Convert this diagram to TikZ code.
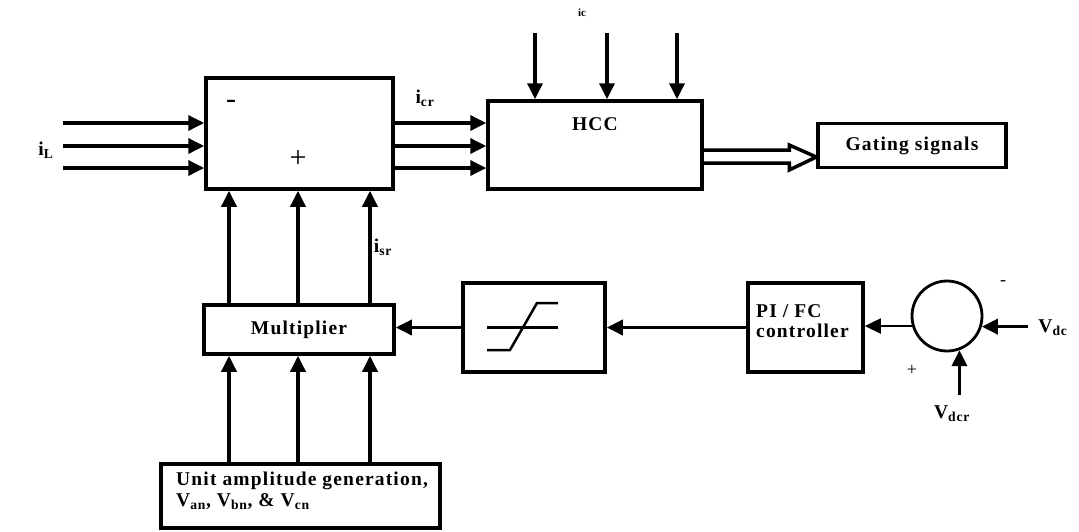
\documentclass[tikz,border=0pt]{standalone}
\usepackage{fontspec}
\setmainfont{Liberation Serif}
\usetikzlibrary{arrows.meta,calc}
\begin{document}
\begin{tikzpicture}[x=1pt,y=-1pt,
  box/.style={draw,line width=3.5pt,rectangle,inner sep=0pt,align=center,font=\lbl},
  arr/.style={line width=3.5pt,-{Triangle[length=16pt,width=15pt]}},
  thinarr/.style={line width=1.8pt,-{Triangle[length=16pt,width=15pt]}},
  lbl/.style={inner sep=0pt,font=\lbl},
  sign/.style={inner sep=0pt,font=\fontsize{30}{32}\selectfont}]
\newcommand{\lbl}{\bfseries\fontsize{19.5}{22}\selectfont\addfontfeature{LetterSpace=6}}
\useasboundingbox (0,0) rectangle (1079,531);
% boxes
\node[box,minimum width=187pt,minimum height=111pt] (sub) at (299.5,133.5) {};
\node[box,minimum width=214pt,minimum height=88pt] (hcc) at (595,145) {};
\node[lbl] (hcct) at (595,124) {HCC};
\node[box,minimum width=188pt,minimum height=44pt] (gate) at (912,145.5) {Gating signals};
\node[box,minimum width=190pt,minimum height=49pt] (mul) at (299,329.5) {Multiplier};
\node[box,minimum width=279pt,minimum height=64pt] (unit) at (300.5,496) {};
\node[lbl,anchor=west,align=left] (unitt) at (176,491) {Unit amplitude generation,\\[-1pt]V\textsubscript{an}, V\textsubscript{bn}, \& V\textsubscript{cn}};
\node[box,minimum width=142pt,minimum height=89pt] (lim) at (534,327.5) {};
\node[box,minimum width=115pt,minimum height=89pt] (pi) at (805.5,327.5) {};
\node[lbl,anchor=west,align=left] (pit) at (756,321) {PI / FC\\[-2pt]controller};
\node[draw,circle,line width=2.8pt,minimum size=70pt,inner sep=0pt] (circ) at (947,316) {};
% limiter symbol
\draw[line width=2.5pt] ($(lim.center)+(-47,0)$) -- ($(lim.center)+(24,0)$);
\draw[line width=2.5pt] ($(lim.center)+(-47,22.5)$) -- ($(lim.center)+(-24,22.5)$) -- ($(lim.center)+(3,-24.5)$) -- ($(lim.center)+(24,-24.5)$);
% free ends
\coordinate (l1) at (63,123);
\coordinate (l2) at (63,146);
\coordinate (l3) at (63,168);
\coordinate (t1) at (535,33);
\coordinate (t2) at (607,33);
\coordinate (t3) at (677,33);
\coordinate (m1) at (229,0);
\coordinate (m2) at (298,0);
\coordinate (m3) at (370,0);
\coordinate (vdc) at (1028,0);
\coordinate (vdcr) at (0,395);
% iL inputs
\foreach \c in {l1,l2,l3} \draw[arr] (\c) -- (\c -| sub.west);
% subtractor to HCC
\foreach \c in {l1,l2,l3} \draw[arr] (\c -| sub.east) -- (\c -| hcc.west);
% top inputs of HCC
\foreach \c in {t1,t2,t3} \draw[arr] (\c) -- (\c |- hcc.north);
% multiplier to subtractor, unit to multiplier
\foreach \c in {m1,m2,m3} {
  \draw[arr] (mul.north -| \c) -- (sub.south -| \c);
  \draw[arr] (unit.north -| \c) -- (mul.south -| \c);
}
% chain
\draw[arr] (lim.west) -- (lim.west -| mul.east);
\draw[arr] (pi.west) -- (lim.east);
\draw[thinarr] (circ.196) -- (circ.196 -| pi.east);
\draw[arr] (circ.-17 -| vdc) -- (circ.-17);
\draw[arr] (circ.-70 |- vdcr) -- (circ.-70);
% double arrow to gating
\coordinate (gt) at (gate.west |- 0,157);
\draw[line width=3.5pt,line join=miter]
  (hcc.east |- 0,150) -- ($(gt)+(-27,-7)$) -- ($(gt)+(-27,-12)$) -- (gt)
  -- ($(gt)+(-27,13)$) -- ($(gt)+(-27,6)$) -- (hcc.east |- 0,163);
% labels
\node[lbl] (iL) at (46,150) {i\textsubscript{L}};
\node[lbl] (icr) at (425,98) {i\textsubscript{cr}};
\node[lbl] (isr) at (383,247) {i\textsubscript{sr}};
\node[lbl,font=\bfseries\fontsize{11}{12}\selectfont] (ic) at (582,13) {ic};
\node[sign] (minus) at (231,104) {-};
\node[sign] (plus) at (298,159) {+};
\node[sign,font=\fontsize{18}{20}\selectfont] (minus2) at (1003,283) {-};
\node[sign,font=\fontsize{18}{20}\selectfont] (plus2) at (912,370) {+};
\node[lbl] (vdct) at (1053,328) {V\textsubscript{dc}};
\node[lbl] (vdcrt) at (952,414) {V\textsubscript{dcr}};
\end{tikzpicture}
\end{document}
